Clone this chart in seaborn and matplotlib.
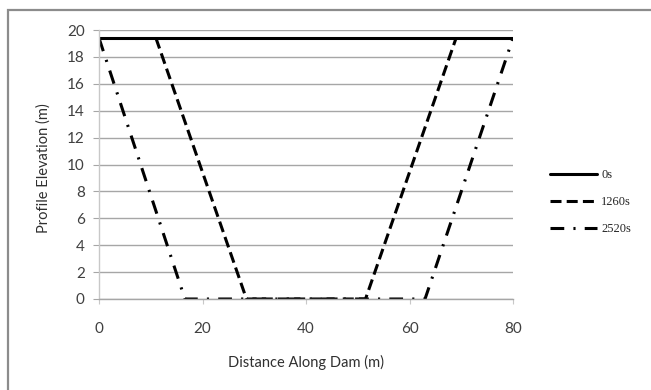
import matplotlib
matplotlib.use("Agg")
import matplotlib.pyplot as plt
from matplotlib.patches import Rectangle
import seaborn as sns
import pandas as pd

# Data
series_names = ["0s", "1260s", "2520s"]
x_0s = [0, 80]
y_0s = [19.4, 19.4]
x_1260 = [11.0, 28.5, 51.5, 69.0]
y_1260 = [19.4, 0, 0, 19.4]
x_2520 = [0, 16.6, 63.0, 80]
y_2520 = [19.4, 0, 0, 19.4]
x_ticks = [0, 20, 40, 60, 80]
y_ticks = [0, 2, 4, 6, 8, 10, 12, 14, 16, 18, 20]

frames = []
for name, xs, ys in zip(series_names, [x_0s, x_1260, x_2520], [y_0s, y_1260, y_2520]):
    frames.append(pd.DataFrame({"x": xs, "y": ys, "series": name}))
df = pd.concat(frames, ignore_index=True)

sns.set_theme(style="white")
plt.rcParams["font.family"] = ["Lato", "DejaVu Sans"]

fig = plt.figure(figsize=(6.51, 3.90), dpi=100)
ax = fig.add_axes([99 / 651, 1 - 299 / 390, (513 - 99) / 651, (299 - 30) / 390])

dashes = {"0s": "", "1260s": (3.6, 1.7), "2520s": (4.5, 3.0, 0.7, 3.0)}
sns.lineplot(data=df, x="x", y="y", hue="series", style="series",
             palette={n: "black" for n in series_names}, dashes=dashes,
             sort=False, estimator=None, linewidth=2.2, ax=ax, legend=True)

ax.set_xlim(0, 80)
ax.set_ylim(0, 20)
ax.set_xticks(x_ticks)
ax.set_yticks(y_ticks)
ax.yaxis.grid(True, color="#a6a6a6", linewidth=1.0)
ax.xaxis.grid(False)
ax.set_axisbelow(True)
for s in ["top", "right"]:
    ax.spines[s].set_visible(False)
ax.spines["left"].set_color("#c8c8c8")
ax.spines["bottom"].set_color("#a6a6a6")
ax.spines["left"].set_linewidth(1.0)
ax.spines["bottom"].set_linewidth(1.0)
ax.tick_params(axis="y", which="major", left=True, length=4.3, width=0.8,
               color="#a6a6a6", pad=6, labelsize=11, labelcolor="#404040")
ax.tick_params(axis="x", which="major", bottom=True, length=3.6, width=0.8,
               color="#c8c8c8", pad=13, labelsize=11, labelcolor="#404040")
ax.set_xlabel("Distance Along Dam (m)", fontsize=10.5, color="#303030",
              va="center")
ax.set_ylabel("Profile Elevation (m)", fontsize=10.5, color="#303030",
              va="center")
ax.xaxis.set_label_coords(0.501, -(362 - 299) / 269)
ax.yaxis.set_label_coords((44 - 99) / 414, (299 - 168) / 269)

handles, labels = ax.get_legend_handles_labels()
ax.legend_.remove()
leg = fig.legend(handles, labels, loc="center left",
                 bbox_to_anchor=(550 / 651, 1 - 202 / 390), bbox_transform=fig.transFigure,
                 frameon=False, borderpad=0, borderaxespad=0,
                 handlelength=3.76, handletextpad=0.32, labelspacing=1.2,
                 prop={"family": "Liberation Serif", "size": 9})

fig.patches.append(Rectangle((8 / 651, -0.1), 1.2, 1 - 10 / 390 + 0.1,
                             transform=fig.transFigure, fill=False,
                             edgecolor="#8c8c8c", linewidth=1.6))

fig.savefig("out.png", dpi=100)
